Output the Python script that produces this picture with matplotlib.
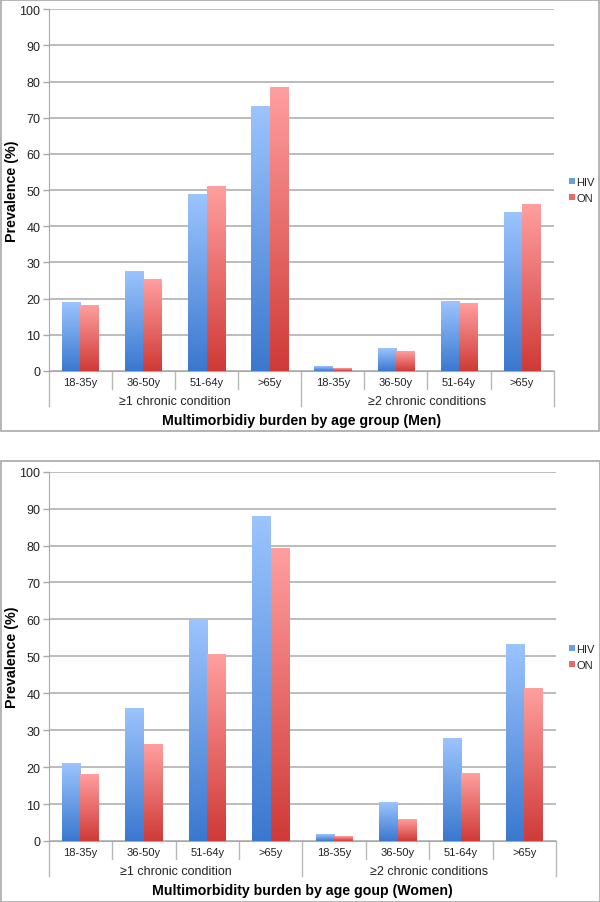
import numpy as np
import matplotlib
matplotlib.use("Agg")
import matplotlib.pyplot as plt
from matplotlib.colors import LinearSegmentedColormap
from matplotlib.patches import Rectangle

plt.rcParams['font.family'] = ['Liberation Sans', 'DejaVu Sans']

ages = ["18-35y", "36-50y", "51-64y", ">65y", "18-35y", "36-50y", "51-64y", ">65y"]
groups = ["\u22651 chronic condition", "\u22652 chronic conditions"]
series = ["HIV", "ON"]

men_hiv = [19.0, 27.6, 48.7, 73.0, 1.3, 6.3, 19.2, 43.9]
men_on = [18.0, 25.3, 51.0, 78.4, 0.7, 5.4, 18.8, 45.9]
women_hiv = [20.9, 36.0, 60.1, 87.9, 1.7, 10.4, 27.7, 53.1]
women_on = [18.0, 26.1, 50.4, 79.3, 1.1, 5.7, 18.2, 41.3]

blue_cm = LinearSegmentedColormap.from_list("b", ["#3a78cf", "#9cc4fd"])
red_cm = LinearSegmentedColormap.from_list("r", ["#cf3a37", "#ff9f9f"])
grad = np.linspace(0, 1, 256).reshape(-1, 1)

W, H = 600, 903
fig = plt.figure(figsize=(W / 100, H / 100), dpi=100)

# panel frames
fig.patches.append(Rectangle((0.5 / W, 1 - 432 / H), 598 / W, 431.5 / H, transform=fig.transFigure,
                             fill=False, edgecolor="#a8a8a8", lw=1.2))
fig.patches.append(Rectangle((0.5 / W, 0.5 / H), 599 / W, (903 - 462) / H, transform=fig.transFigure,
                             fill=False, edgecolor="#a8a8a8", lw=1.2))


def panel(rect, hiv, on, xlabel, legend_y):
    ax = fig.add_axes(rect)
    x = np.arange(len(ages))
    w = 0.29
    b1 = ax.bar(x - w / 2, hiv, w, color="#6a9ee6", zorder=2, label=series[0])
    b2 = ax.bar(x + w / 2, on, w, color="#e86a68", zorder=2, label=series[1])
    # vertical gradient on each bar, dark at the bottom
    for bars, cm in ((b1, blue_cm), (b2, red_cm)):
        for r in bars:
            x0, h = r.get_x(), r.get_height()
            ax.imshow(grad, cmap=cm, origin="lower", aspect="auto", zorder=3,
                      extent=(x0, x0 + r.get_width(), 0, h), interpolation="bilinear")
    ax.set_xlim(-0.5, 7.5)
    ax.set_ylim(0, 100)
    ax.set_yticks(np.arange(0, 101, 10))
    ax.yaxis.grid(True, color="#a9a9a9", lw=1.1, zorder=0)
    ax.set_axisbelow(True)
    for s in ("top", "right"):
        ax.spines[s].set_visible(False)
    ax.spines["left"].set_color("#a9a9a9")
    ax.spines["bottom"].set_color("#a9a9a9")
    ax.tick_params(axis="y", labelsize=9, colors="#a9a9a9", labelcolor="#222222", length=4, width=1, pad=2)
    ax.set_xticks([])
    ax.set_ylabel("Prevalence (%)", fontsize=10.3, fontweight="bold", va="center")
    ax.yaxis.set_label_coords(-37 / (rect[2] * W), 0.5)

    # two-level category axis
    hpx = rect[3] * H
    f = lambda px: -px / hpx
    tr = ax.get_xaxis_transform()
    for i, lab in enumerate(ages):
        ax.text(x[i], f(11.5), lab, transform=tr, ha="center", va="center", fontsize=8, color="#222222")
    for sx in (0.5, 1.5, 2.5, 4.5, 5.5, 6.5):
        ax.plot([sx, sx], [0, f(18)], transform=tr, color="#b8b8b8", lw=1, clip_on=False)
    for sx in (-0.5, 3.5, 7.5):
        ax.plot([sx, sx], [0, f(35)], transform=tr, color="#b8b8b8", lw=1, clip_on=False)
    for gx, g in zip((1.5, 5.5), groups):
        ax.text(gx, f(30), g, transform=tr, ha="center", va="center", fontsize=9, color="#222222")
    ax.text(3.5, f(49), xlabel, transform=tr, ha="center", va="center", fontsize=10.2, fontweight="bold")

    leg = fig.legend(handles=[b1, b2], labels=series, loc="center left",
                     bbox_to_anchor=(569 / W, 1 - legend_y / H), frameon=False, fontsize=8,
                     borderaxespad=0, borderpad=0,
                     handlelength=0.5, handleheight=0.5, handletextpad=0.15, labelspacing=0.55)
    for t in leg.get_texts():
        t.set_color("#222222")
    return ax


panel([48.7 / W, 1 - 372 / H, 505 / W, 361.7 / H], men_hiv, men_on,
      "Multimorbidiy burden by age group (Men)", 191)
panel([48.7 / W, 1 - 842 / H, 507.5 / W, 369.3 / H], women_hiv, women_on,
      "Multimorbidity burden by age goup (Women)", 658)

fig.savefig("out.png", dpi=100)
